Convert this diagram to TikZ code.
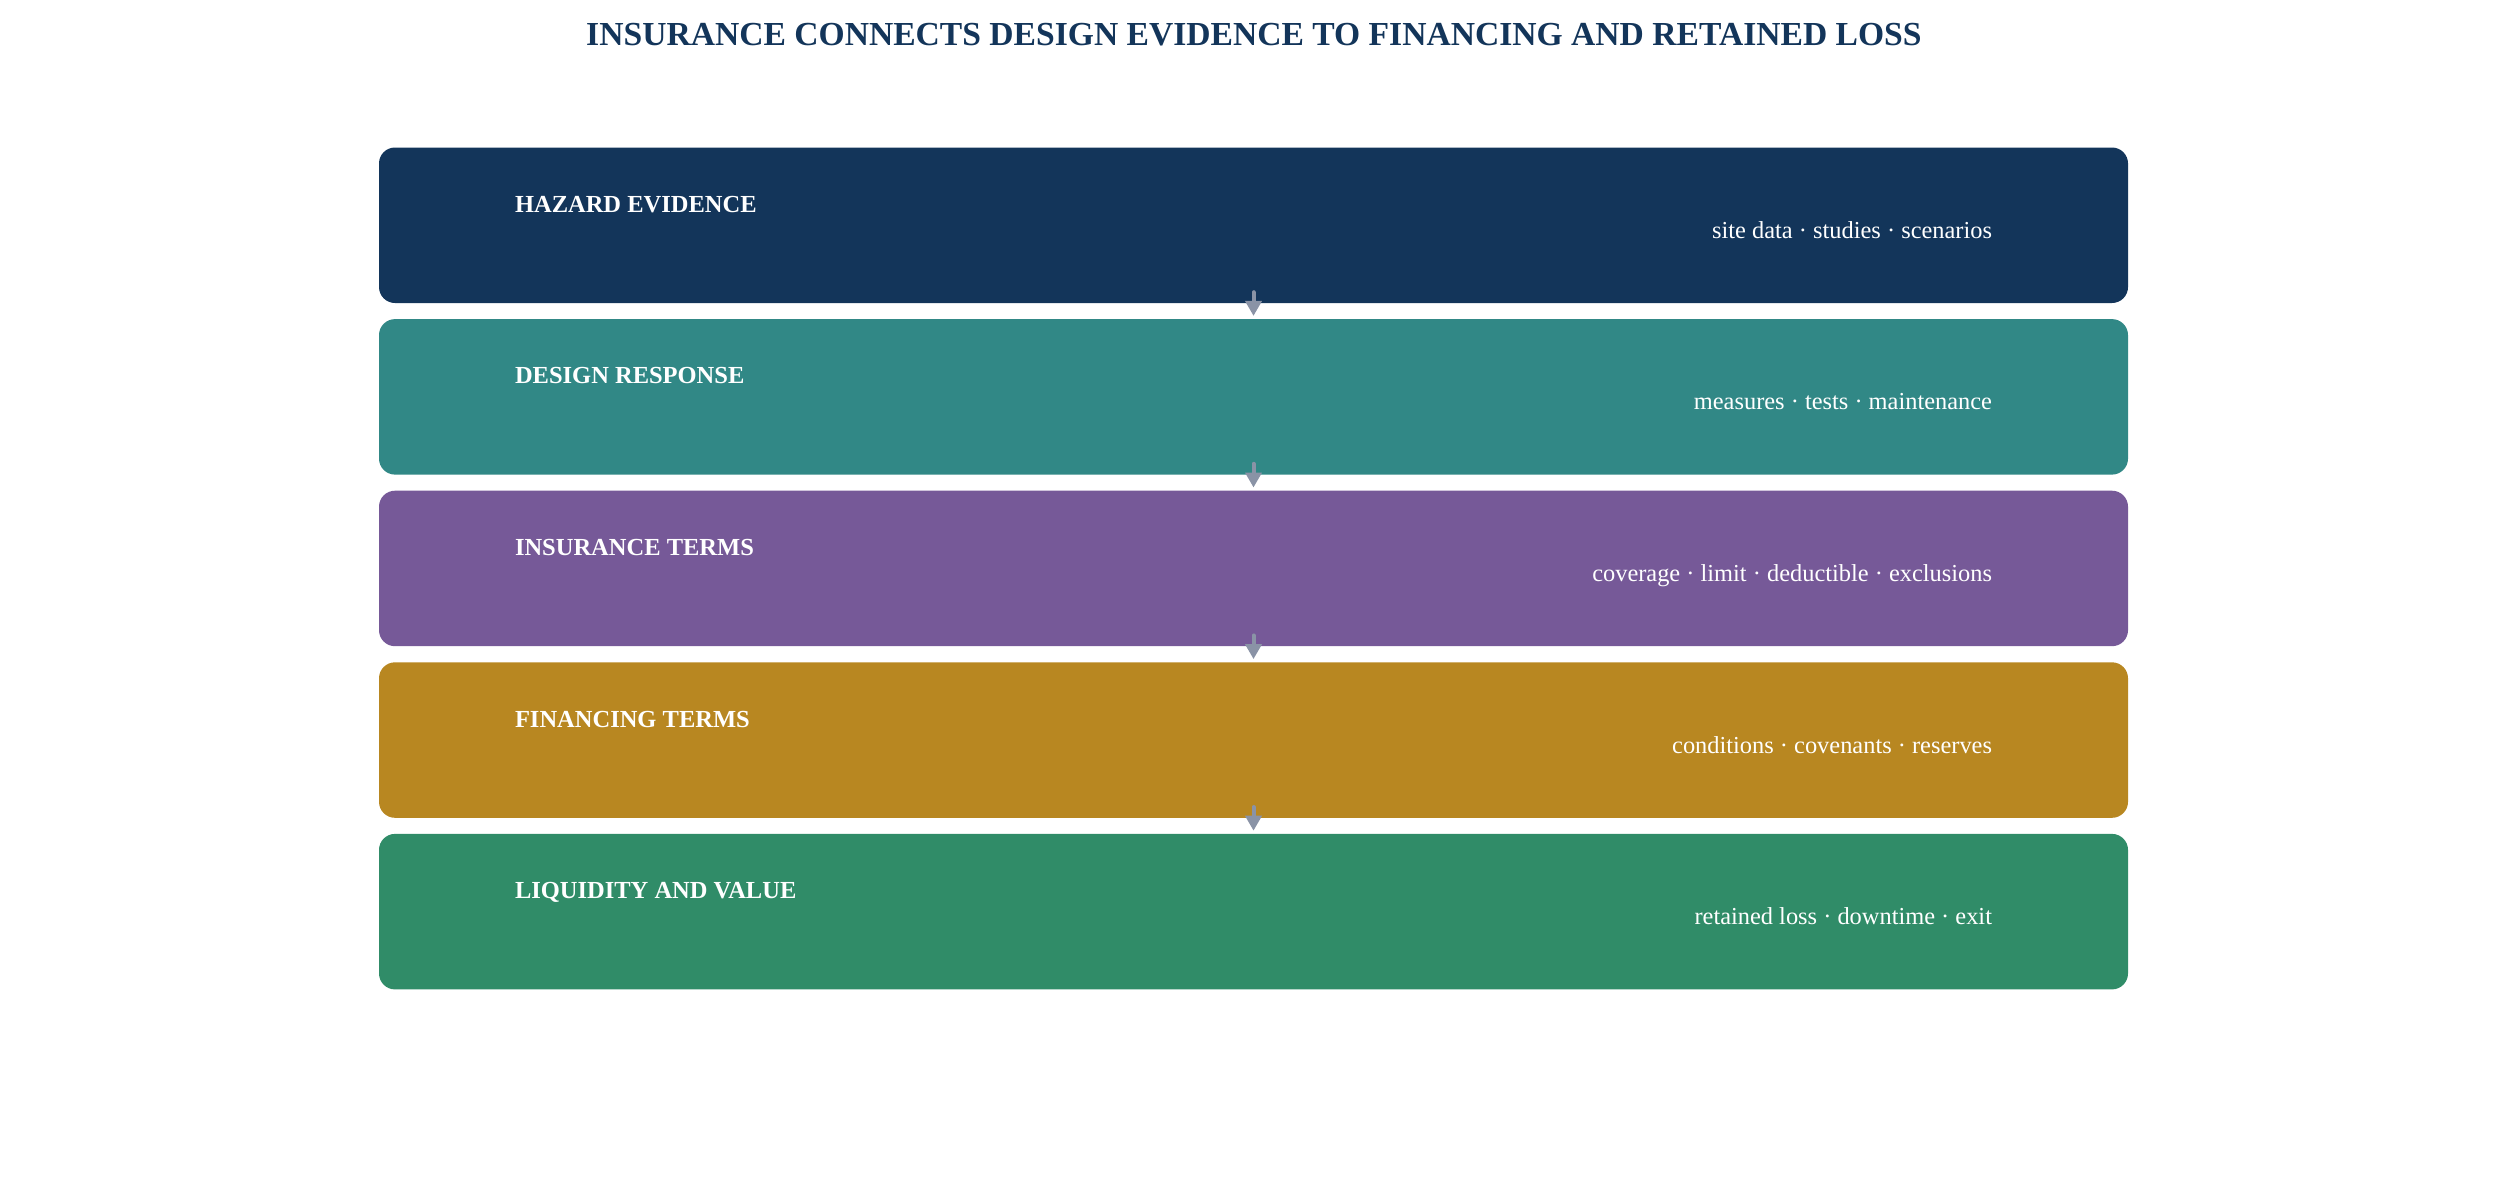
\documentclass[tikz,border=0pt]{standalone}
\usepackage{fontspec}
\setmainfont{Liberation Serif}
\usetikzlibrary{arrows.meta}
\definecolor{cnavy}{HTML}{13355A}
\definecolor{cteal}{HTML}{318886}
\definecolor{cpurple}{HTML}{765998}
\definecolor{cgold}{HTML}{B88721}
\definecolor{cgreen}{HTML}{308C68}
\definecolor{carrow}{HTML}{8A93A6}
\tikzset{
  band/.style={rectangle, rounded corners=16pt, minimum width=1749pt, minimum height=155.5pt, inner sep=0pt, anchor=north, draw=none},
  headtxt/.style={anchor=base west, inner sep=0pt, text=white, font=\fontsize{24.5}{28}\selectfont\bfseries},
  subtxt/.style={anchor=base east, inner sep=0pt, text=white, font=\fontsize{24.4}{28}\selectfont},
  flow/.style={draw=carrow, line width=4pt, line cap=round, -{Triangle[width=16pt,length=15pt]}},
}
\begin{document}
\begin{tikzpicture}[x=1pt,y=-1pt]
\useasboundingbox (0,0) rectangle (2507,1189);
\node[anchor=base, inner sep=0pt, text=cnavy, font=\fontsize{33.6}{40}\selectfont\bfseries] (title) at (1254,45) {INSURANCE CONNECTS DESIGN EVIDENCE TO FINANCING AND RETAINED LOSS};
\node[band, fill=cnavy]   (b1) at (1253.5,147.3) {};
\node[band, fill=cteal]   (b2) at (1253.5,318.9) {};
\node[band, fill=cpurple] (b3) at (1253.5,490.5) {};
\node[band, fill=cgold]   (b4) at (1253.5,662.1) {};
\node[band, fill=cgreen]  (b5) at (1253.5,833.7) {};
\foreach \b/\h/\s in {b1/HAZARD EVIDENCE/site data · studies · scenarios,
                      b2/DESIGN RESPONSE/measures · tests · maintenance,
                      b3/INSURANCE TERMS/coverage · limit · deductible · exclusions,
                      b4/FINANCING TERMS/conditions · covenants · reserves,
                      b5/LIQUIDITY AND VALUE/retained loss · downtime · exit}{
  \node[headtxt] (\b h) at ([xshift=136pt,yshift=-65pt]\b.north west) {\h};
  \node[subtxt] (\b s) at ([xshift=-136pt,yshift=-91pt]\b.north east) {\s};
}
\foreach \a/\c in {b1/b2,b2/b3,b3/b4,b4/b5}{
  \draw[flow] ([yshift=11pt]\a.south) -- ([yshift=3pt]\c.north);
}
\end{tikzpicture}
\end{document}
